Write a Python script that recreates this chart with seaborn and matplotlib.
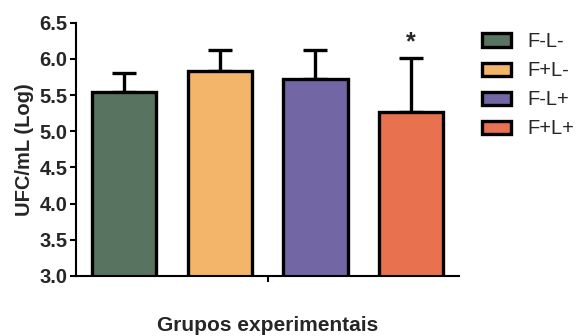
import matplotlib
matplotlib.use("Agg")
import matplotlib.pyplot as plt
import seaborn as sns
import pandas as pd
import numpy as np

# Data
groups = ["F-L-", "F+L-", "F-L+", "F+L+"]
means = [5.55, 5.84, 5.72, 5.27]
sds = [0.26, 0.28, 0.41, 0.74]
colors = ["#587461", "#f3b56a", "#7266a5", "#e8714f"]

df = pd.DataFrame({"grupo": groups, "ufc": means})

sns.set_theme(style="white")
plt.rcParams['font.family'] = ['Liberation Sans', 'DejaVu Sans']

fig = plt.figure(figsize=(5.76, 3.36), dpi=100)
ax = fig.add_axes([0.132, 0.179, 0.665, 0.753])

sns.barplot(data=df, x="grupo", y="ufc", hue="grupo", palette=colors,
            saturation=1, width=0.67, edgecolor="black", linewidth=2.4,
            legend=False, ax=ax)

ax.errorbar(np.arange(len(groups)), means, yerr=[np.zeros(len(sds)), sds],
            fmt="none", ecolor="black", elinewidth=2.4, capsize=8.5,
            capthick=2.4, zorder=1)
for p in ax.patches:
    p.set_zorder(2)

ax.text(3, 6.0 + 0.06, "*", ha="center", va="bottom", fontsize=18, fontweight="bold")

ax.set_ylim(3.0, 6.5)
ax.set_xlim(-0.5, 3.5)
ticks = np.arange(3.0, 6.51, 0.5)
ax.set_yticks(ticks)
ax.set_yticklabels([f"{v:.1f}" for v in ticks], fontsize=14.5, fontweight="bold")
ax.set_xticks([1.5])
ax.set_xticklabels([""])
ax.tick_params(axis="both", direction="out", length=4, width=1.5, color="black",
               left=True, bottom=True, pad=2)
ax.set_ylabel("UFC/mL (Log)", fontsize=14.5, fontweight="bold", labelpad=4)
ax.set_xlabel("Grupos experimentais", fontsize=15, fontweight="bold")
ax.xaxis.set_label_coords(0.5, -0.16)
for s in ["top", "right"]:
    ax.spines[s].set_visible(False)
for s in ["left", "bottom"]:
    ax.spines[s].set_linewidth(1.5)
    ax.spines[s].set_color("black")

handles = [plt.Rectangle((0, 0), 1, 1, facecolor=c, edgecolor="black", linewidth=2.4)
           for c in colors]
fig.legend(handles, groups, loc="upper left", bbox_to_anchor=(0.82, 0.934),
           frameon=False, fontsize=14.5, handlelength=1.4, handleheight=0.65,
           handletextpad=0.85, labelspacing=0.5, borderpad=0)

fig.savefig("out.png", dpi=100)
